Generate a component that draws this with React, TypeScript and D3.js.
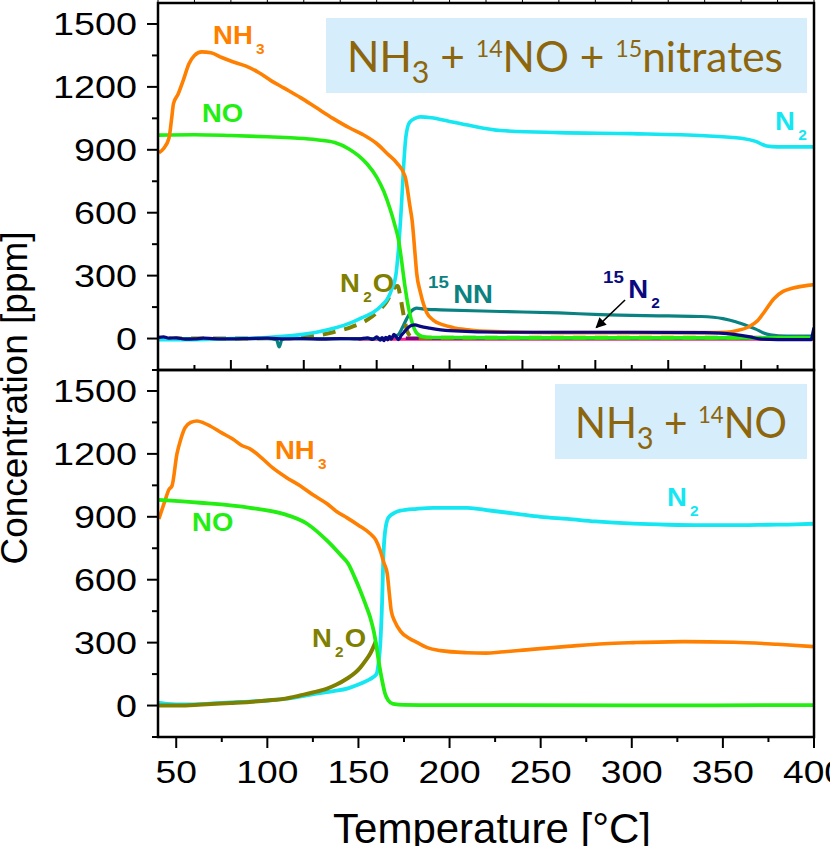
import React from "react";
import * as d3 from "d3";

type Pt = [number, number];

// ---- upper panel : NH3 + 14NO + 15nitrates  (T [°C], ppm)
const nh3Upper: Pt[] = [
  [40.5, 886], [43, 905], [46, 955], [47.5, 1050], [48.5, 1120], [51, 1165], [54, 1235], [57, 1310],
  [60, 1350], [64, 1367], [69, 1363], [75, 1340], [81, 1320], [88, 1300], [95, 1270], [102, 1230],
  [109, 1195], [118, 1150], [127, 1100], [136, 1050], [145, 1005], [152, 975], [160, 930], [166, 880],
  [171, 838], [175.6, 773], [178.3, 628], [179.5, 560], [181, 410], [182, 309], [184, 220], [187.5, 123],
  [191, 88], [196.5, 65], [202, 52], [210, 42], [225, 33], [260, 28], [300, 28], [340, 28], [352, 30],
  [358, 38], [364, 55], [369, 85], [373, 130], [378, 190], [383, 225], [388, 240], [394, 250], [400, 257],
];
const noUpper: Pt[] = [
  [40, 970], [60, 972], [80, 968], [100, 962], [115, 956], [127, 948], [137, 935], [145, 903], [150, 872],
  [155, 830], [160, 770], [164, 700], [167.5, 614], [170, 540], [172, 470], [174, 350], [175.5, 250],
  [177.4, 150], [179, 90], [180.5, 50], [182, 25], [185, 10], [190, 5], [250, 3], [400, 3],
];
const n2Upper: Pt[] = [
  [40, -5], [60, -5], [80, 0], [100, 5], [115, 15], [127, 30], [137, 50], [146, 76], [152, 100], [158, 124],
  [163, 160], [166, 190], [168.5, 240], [170.5, 300], [172, 430], [173.5, 620], [175, 850], [176, 960],
  [178, 1030], [181, 1050], [184, 1057], [190, 1053], [200, 1035], [210, 1018], [228, 992], [260, 982],
  [300, 977], [340, 967], [360, 955], [368, 940], [374, 918], [380, 914], [400, 914],
];
const n2oUpper: Pt[] = [
  [40, 0], [80, 0], [110, 5], [125, 12], [136, 30], [146, 55], [155, 90], [162, 140], [165, 170], [168, 215],
  [170, 245], [171.5, 250], [173, 200], [174, 150], [175.5, 80], [177, 30], [179, 10], [182, 4], [400, 4],
];
const nn15Upper: Pt[] = [
  [40, 0], [100, 0], [105, -5], [106.5, -40], [108, -5], [110, 0], [160, 0], [168, 5], [172, 20], [174, 50],
  [176.5, 95], [179, 130], [182, 145], [186, 140], [195, 137], [228, 129], [260, 122], [283, 114], [320, 108],
  [338, 105], [350, 95], [357, 80], [363, 62], [368, 45], [372, 28], [376, 18], [385, 12], [400, 12],
];
const n2x15Upper: Pt[] = [
  [40, 5], [43, 8], [46, 2], [50, 3], [55, -3], [60, -2], [65, 2], [70, 0], [80, -2], [90, 0], [100, 2],
  [110, -2], [120, 0], [130, -3], [140, 0], [150, -2], [155, 3], [158, -4], [160, 8], [162, -8], [163, 5],
  [164, -10], [165, 6], [166, -6], [167, 10], [168, -3], [169.5, 20], [171, 5], [172, -5], [173.5, 15],
  [175, 30], [177, 50], [179, 62], [181, 65], [184, 58], [189, 50], [200, 38], [230, 30], [260, 30],
  [300, 30], [340, 28], [356, 20], [365, 8], [370, -2], [380, -5], [398.5, -5], [399.2, 20], [400, 52],
];
const purpleUpper: Pt[] = [[176, 1], [400, 1]];
const pinkUpper: Pt[] = [[150, -3], [400, -3]];

// ---- lower panel : NH3 + 14NO
const nh3Lower: Pt[] = [
  [40.5, 890], [43.8, 976], [46, 1030], [47.7, 1048], [50.4, 1200], [52.5, 1270], [54.8, 1324], [58, 1350],
  [61.4, 1357], [65, 1348], [68.6, 1333], [75, 1300], [81, 1271], [86, 1240], [90.5, 1224], [97, 1180],
  [103, 1133], [110, 1090], [118, 1048], [125, 1005], [132.8, 962], [138, 925], [143.8, 895], [150, 860],
  [156.5, 819], [159.5, 790], [162, 738], [164, 680], [165.8, 629], [167, 530], [168, 452], [170, 400],
  [173, 355], [178, 320], [182.3, 300], [187.8, 276], [195, 262], [209.8, 252], [220, 250], [228, 255],
  [245, 268], [264.7, 282], [285, 295], [301, 300], [328.5, 305], [356, 302], [380, 292], [400, 281],
];
const noLower: Pt[] = [
  [40, 981], [63, 967], [90.5, 943], [108.7, 914], [121.8, 867], [132.8, 786], [140, 720], [144.4, 676],
  [148, 610], [151, 548], [154, 480], [156.5, 419], [158.5, 350], [160, 276], [161.5, 190], [163, 119],
  [164.5, 60], [166.4, 24], [169, 8], [175, 3], [200, 2], [300, 1], [400, 2],
];
const n2Lower: Pt[] = [
  [40, 14], [45, 8], [55, 5], [70, 10], [85, 17], [100, 24], [115, 38], [127, 57], [137, 70], [143.8, 81],
  [150, 100], [154.8, 119], [158, 135], [160, 152], [161, 200], [162, 295], [163, 500], [163.6, 690],
  [164.5, 820], [166.4, 895], [170, 920], [173, 929], [182, 938], [191, 943], [209.8, 943], [222, 930],
  [237, 914], [250, 900], [264.7, 890], [280, 878], [301, 867], [320, 862], [337.8, 860], [360, 860],
  [374.6, 862], [390, 864], [400, 867],
];
const n2oLower: Pt[] = [
  [40, 0], [50, 0], [60, 3], [80, 12], [100, 24], [110, 33], [118, 48], [125, 62], [132.8, 81], [138, 100],
  [143.8, 129], [148, 155], [151, 181], [154, 215], [156.5, 248], [158, 275], [159.5, 305],
];

// ---- axes
const yMajor = [0, 300, 600, 900, 1200, 1500];
const yMinor = [-150, 150, 450, 750, 1050, 1350];
const xMajorUpper = d3.range(40, 401, 40);
const xMinorUpper = d3.range(60, 400, 40);
const xMajorLower = [50, 100, 150, 200, 250, 300, 350, 400];
const xMinorLower = [75, 125, 175, 225, 275, 325, 375];

const C = {
  nh3: "#ff7f00", no: "#22ee11", n2: "#14e6f2", n2o: "#808000",
  nn15: "#0b8282", n215: "#0a0a80", purple: "#800080", pink: "#ff1a8c",
  box: "#d6edfb", boxText: "#8c650c",
};

const left = 158, right = 814;
const xScale = d3.scaleLinear().domain([40, 400]).range([left, right]);

// [text, kind] kind 0 = normal, 1 = subscript, 2 = superscript
type Part = [string, number];
interface Lbl { t: number; v: number; color: string; parts: Part[] }

const upperLabels: Lbl[] = [
  { t: 70.2, v: 1404, color: C.nh3, parts: [["NH", 0], ["3", 1]] },
  { t: 64.1, v: 1032, color: C.no, parts: [["NO", 0]] },
  { t: 378.6, v: 994, color: C.n2, parts: [["N", 0], ["2", 1]] },
  { t: 139.9, v: 222, color: C.n2o, parts: [["N", 0], ["2", 1], ["O", 0]] },
  { t: 188.2, v: 169, color: C.nn15, parts: [["15", 2], ["NN", 0]] },
  { t: 284.2, v: 193, color: C.n215, parts: [["15", 2], ["N", 0], ["2", 1]] },
];
const lowerLabels: Lbl[] = [
  { t: 104.2, v: 1175, color: C.nh3, parts: [["NH", 0], ["3", 1]] },
  { t: 58.7, v: 832, color: C.no, parts: [["NO", 0]] },
  { t: 124.5, v: 279, color: C.n2o, parts: [["N", 0], ["2", 1], ["O", 0]] },
  { t: 319.3, v: 951, color: C.n2, parts: [["N", 0], ["2", 1]] },
];

const arrowTail: Pt = [296.3, 184];
const arrowHead: Pt = [280.5, 52];

const font = "'Liberation Sans', Arial, sans-serif";

function Label({ l, y }: { l: Lbl; y: d3.ScaleLinear<number, number> }) {
  let shift = 0;
  const spans = l.parts.map(([txt, k], i) => {
    const target = k === 1 ? 10 : k === 2 ? -15 : 0;
    const dy = target - shift;
    shift = target;
    let dx = 0;
    if (i > 0 && k === 1) dx = 3;
    if (i > 0 && k === 0 && l.parts[i - 1][1] === 1) dx = 1;
    if (i > 0 && k === 0 && l.parts[i - 1][1] === 2) dx = 4;
    return (
      <tspan key={i} dx={dx} dy={dy} fontSize={k === 0 ? 25 : k === 1 ? 14 : 17}>{txt}</tspan>
    );
  });
  return (
    <text transform={`translate(${xScale(l.t)},${y(l.v)}) scale(1.1,1)`} fill={l.color}
      fontWeight="bold" fontFamily={font}>{spans}</text>
  );
}

function BoxText({ x, y, width, parts }: { x: number; y: number; width: number; parts: Part[] }) {
  let shift = 0;
  const spans = parts.map(([txt, k], i) => {
    const target = k === 1 ? 11 : k === 2 ? -15 : 0;
    const dy = target - shift;
    shift = target;
    return <tspan key={i} dy={dy} fontSize={k === 0 ? 42 : k === 1 ? 30 : 23}>{txt}</tspan>;
  });
  return (
    <text x={x} y={y} fill={C.boxText} fontFamily="Lato, 'Open Sans', sans-serif"
      textLength={width} lengthAdjust="spacingAndGlyphs" xmlSpace="preserve">{spans}</text>
  );
}

interface Series { data: Pt[]; color: string; width: number; dash?: string; offset?: number }

function Panel(props: {
  top: number; bottom: number; id: string; series: Series[]; labels: Lbl[];
  box: { x0: number; y0: number; x1: number; y1: number; tx: number; ty: number; tw: number; parts: Part[] };
  upper: boolean;
}) {
  const { top, bottom, id, series, labels, box, upper } = props;
  const y = d3.scaleLinear().domain([-150, 1600]).range([bottom, top]);
  const line = d3.line<Pt>().x(d => xScale(d[0])).y(d => y(d[1])).curve(d3.curveMonotoneX);

  return (
    <g>
      <clipPath id={id}>
        <rect x={left} y={top} width={right - left} height={bottom - top} />
      </clipPath>
      <rect x={box.x0} y={box.y0} width={box.x1 - box.x0} height={box.y1 - box.y0} fill={C.box} />
      <BoxText x={box.tx} y={box.ty} width={box.tw} parts={box.parts} />
      <g clipPath={`url(#${id})`}>
        {series.map((s, i) => (
          <path key={i} d={line(s.data) ?? ""} fill="none" stroke={s.color} strokeWidth={s.width}
            strokeDasharray={s.dash} strokeDashoffset={s.offset} strokeLinejoin="round" />
        ))}
      </g>
      {labels.map((l, i) => <Label key={i} l={l} y={y} />)}

      {/* y axis */}
      {yMajor.map(v => (
        <g key={"M" + v}>
          <line x1={left - 11} x2={left} y1={y(v)} y2={y(v)} stroke="#000" strokeWidth={2} />
          <text transform={`translate(137,${y(v) + 11}) scale(1.18,1)`} textAnchor="end"
            fontSize={32} fontFamily={font}>{v}</text>
        </g>
      ))}
      {yMinor.map(v => (
        <line key={"m" + v} x1={left - 6} x2={left} y1={y(v)} y2={y(v)} stroke="#000" strokeWidth={2} />
      ))}

      {/* x axis */}
      {upper ? (
        <g>
          {xMajorUpper.map(t => (
            <g key={t}>
              <line x1={xScale(t)} x2={xScale(t)} y1={bottom} y2={bottom - 10} stroke="#000" strokeWidth={2} />
              <line x1={xScale(t)} x2={xScale(t)} y1={top} y2={top - 10} stroke="#000" strokeWidth={1} />
            </g>
          ))}
          {xMinorUpper.map(t => (
            <g key={t}>
              <line x1={xScale(t)} x2={xScale(t)} y1={bottom} y2={bottom - 5} stroke="#000" strokeWidth={2} />
              <line x1={xScale(t)} x2={xScale(t)} y1={top} y2={top - 5} stroke="#000" strokeWidth={1} />
            </g>
          ))}
        </g>
      ) : (
        <g>
          {xMajorLower.map(t => (
            <g key={t}>
              <line x1={xScale(t)} x2={xScale(t)} y1={bottom} y2={bottom + 11} stroke="#000" strokeWidth={2} />
              <text transform={`translate(${xScale(t)},${bottom + 46}) scale(1.2,1)`} textAnchor="middle"
                fontSize={31} fontFamily={font}>{t}</text>
            </g>
          ))}
          {xMinorLower.map(t => (
            <line key={t} x1={xScale(t)} x2={xScale(t)} y1={bottom} y2={bottom + 5} stroke="#000" strokeWidth={2} />
          ))}
        </g>
      )}
      <rect x={left} y={top} width={right - left} height={bottom - top} fill="none" stroke="#000" strokeWidth={2.5} />
    </g>
  );
}

export default function App() {
  const yUp = d3.scaleLinear().domain([-150, 1600]).range([370, 3]);
  const upperSeries: Series[] = [
    { data: pinkUpper, color: C.pink, width: 3 },
    { data: purpleUpper, color: C.purple, width: 3.5, dash: "13 9" },
    { data: nn15Upper, color: C.nn15, width: 3.2 },
    { data: n2oUpper, color: C.n2o, width: 4, dash: "13 9", offset: 11 },
    { data: n2Upper, color: C.n2, width: 3.6 },
    { data: noUpper, color: C.no, width: 3.6 },
    { data: nh3Upper, color: C.nh3, width: 3.6 },
    { data: n2x15Upper, color: C.n215, width: 3.2 },
  ];
  const lowerSeries: Series[] = [
    { data: n2Lower, color: C.n2, width: 3.8 },
    { data: n2oLower, color: C.n2o, width: 4 },
    { data: nh3Lower, color: C.nh3, width: 3.6 },
    { data: noLower, color: C.no, width: 3.8 },
  ];

  return (
    <svg width={830} height={846} style={{ position: "absolute", left: 0, top: 0, background: "#fff" }}>
      <defs>
        <marker id="ah" viewBox="0 0 10 10" refX={9} refY={5} markerWidth={8} markerHeight={7} orient="auto">
          <path d="M0,0 L10,5 L0,10 z" fill="#000" />
        </marker>
      </defs>
      <Panel top={3} bottom={370} id="clipU" series={upperSeries} labels={upperLabels} upper={true}
        box={{ x0: 326, y0: 18, x1: 807, y1: 93, tx: 347, ty: 72, tw: 436,
          parts: [["NH", 0], ["3", 1], [" + ", 0], ["14", 2], ["NO + ", 0], ["15", 2], ["nitrates", 0]] }} />
      <Panel top={370} bottom={737} id="clipL" series={lowerSeries} labels={lowerLabels} upper={false}
        box={{ x0: 555, y0: 384, x1: 807, y1: 459, tx: 575, ty: 438, tw: 212,
          parts: [["NH", 0], ["3", 1], [" + ", 0], ["14", 2], ["NO", 0]] }} />
      <line x1={xScale(arrowTail[0])} y1={yUp(arrowTail[1])} x2={xScale(arrowHead[0])} y2={yUp(arrowHead[1])}
        stroke="#000" strokeWidth={1.5} markerEnd="url(#ah)" />
      <text transform="translate(27,398) rotate(-90)" textAnchor="middle" fontSize={37} fontFamily={font}>
        Concentration [ppm]
      </text>
      <text x={492} y={843} textAnchor="middle" fontSize={42} fontFamily={font}>Temperature [°C]</text>
    </svg>
  );
}
